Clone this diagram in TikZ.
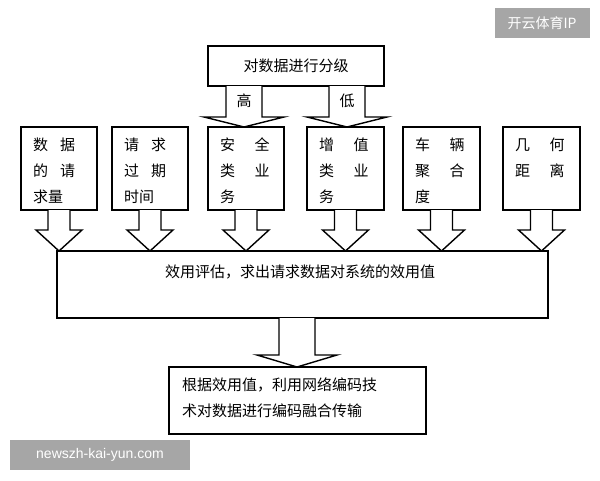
\documentclass[tikz,border=0pt]{standalone}
\usepackage{fontspec}
\setmainfont{Liberation Sans}
\newfontfamily\cjk{Noto Sans CJK SC}
\begin{document}
\begin{tikzpicture}[x=1pt,y=-1pt,
  box/.style={draw,line width=1.4pt,fill=white},
  blk/.style={draw,line width=1.4pt,fill=white,line join=miter},
  txt/.style={font=\cjk\fontsize{15}{26}\selectfont,align=left,anchor=north west,inner sep=0pt}]
\useasboundingbox (0,0) rectangle (600,480);
% block arrow: #1 cx, #2 top y, #3 head start y, #4 tip y, #5 shaft half, #6 head half
\def\barrow#1#2#3#4#5#6{\draw[blk] ({#1-#5},#2) -- ({#1-#5},#3) -- ({#1-#6},#3) -- (#1,#4) -- ({#1+#6},#3) -- ({#1+#5},#3) -- ({#1+#5},#2);}
% top box
\draw[box] (208,46) rectangle (384,86);
\node[font=\cjk\fontsize{15}{18}\selectfont] (top) at (296,66) {对数据进行分级};
\barrow{244}{86}{117}{127}{18}{40}
\barrow{347}{86}{117}{127}{18}{40}
\node[font=\cjk\fontsize{15}{18}\selectfont] (hi) at (244,101) {高};
\node[font=\cjk\fontsize{15}{18}\selectfont] (lo) at (347,101) {低};
% six boxes
\foreach \l/\r/\t [count=\i] in {21/97/{数\hspace{0.8em}据\\的\hspace{0.8em}请\\求量},
  112/188/{请\hspace{0.8em}求\\过\hspace{0.8em}期\\时间},
  208/284/{安\hspace{1.3em}全\\类\hspace{1.3em}业\\务},
  307/384/{增\hspace{1.3em}值\\类\hspace{1.3em}业\\务},
  403/480/{车\hspace{1.3em}辆\\聚\hspace{1.3em}合\\度},
  503/580/{几\hspace{1.3em}何\\距\hspace{1.3em}离}}{
  \draw[box] (\l,127) rectangle (\r,210);
  \node[txt] (b\i) at ({\l+12},138) {\t};
  \pgfmathsetmacro\cx{(\l+\r)/2}
  \barrow{\cx}{210}{230}{251}{11}{23}
}
% main box
\draw[box] (57,251) rectangle (548,318);
\node[font=\cjk\fontsize{15}{18}\selectfont] (main) at (300,272) {效用评估，求出请求数据对系统的效用值};
\barrow{297}{318}{355}{367}{18}{40}
% bottom box
\draw[box] (169,367) rectangle (426,434);
\node[txt,font=\cjk\fontsize{15}{26}\selectfont] (bot) at (182,377) {根据效用值，利用网络编码技\\术对数据进行编码融合传输};
% watermarks
\fill[black!35] (10,440) rectangle (190,470);
\node[text=white,font=\fontsize{14}{16}\selectfont] (wm1) at (100,455) {newszh-kai-yun.com};
\fill[black!35] (495,8) rectangle (590,38);
\node[text=white,font=\cjk\fontsize{14}{16}\selectfont] (wm2) at (542,23) {开云体育IP};
\end{tikzpicture}
\end{document}
